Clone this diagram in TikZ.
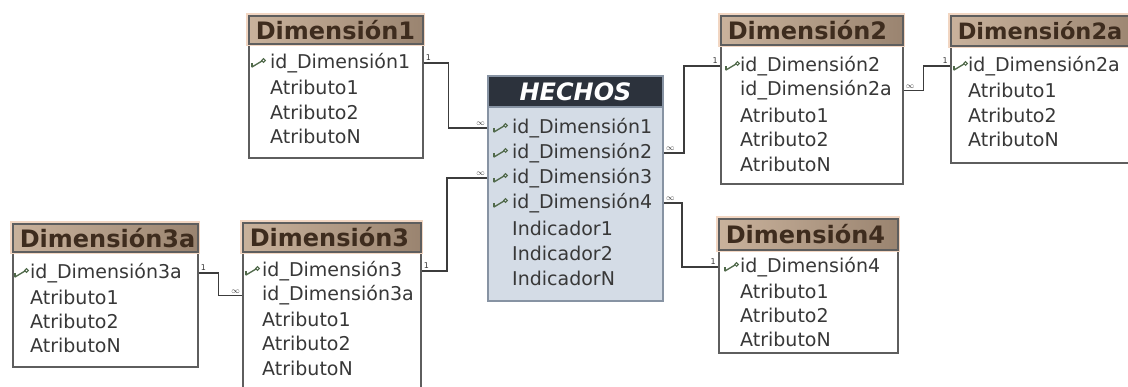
\documentclass[tikz,border=0pt]{standalone}
\usepackage{fontspec}
\setmainfont{DejaVu Sans}
\usetikzlibrary{positioning}

\definecolor{headlt}{HTML}{C9B29C}
\definecolor{headdk}{HTML}{9A8470}
\definecolor{headtxt}{HTML}{3E2C1E}
\definecolor{glow}{HTML}{F2D6C2}
\definecolor{tabline}{HTML}{5E5E5E}
\definecolor{rowc}{HTML}{383838}
\definecolor{facthd}{HTML}{2C323C}
\definecolor{factbg}{HTML}{D4DCE6}
\definecolor{factln}{HTML}{8793A3}
\definecolor{keyc}{HTML}{50694A}
\definecolor{linkc}{HTML}{3C3C3C}

\tikzset{
  rowfont/.style={font=\fontsize{19}{20}\selectfont},
}

\begin{document}
\begin{tikzpicture}[x=1pt, y=-1pt,
  tablebody/.style={draw=tabline, line width=1.6pt, fill=white, anchor=north west, inner sep=0pt},
  tablehead/.style={preaction={draw=glow, line width=5pt}, draw=tabline, line width=1.6pt,
    left color=headlt, right color=headdk, anchor=north west, inner xsep=7pt, inner ysep=0pt,
    align=left, text=headtxt, font=\fontsize{24}{25}\selectfont\bfseries},
  factbody/.style={draw=factln, line width=2pt, fill=factbg, anchor=north west, inner sep=0pt},
  facthead/.style={draw=factln, line width=2pt, fill=facthd, anchor=north west, inner sep=0pt,
    text=white, font=\fontsize{24}{25}\selectfont\bfseries\itshape},
  rowtxt/.style={rowfont, anchor=west, inner sep=0pt, text=rowc},
  link/.style={draw=linkc, line width=1.4pt},
  mult/.style={font=\fontsize{8}{8}\selectfont, text=rowc, inner sep=1.5pt},
  pk/.pic={
    \draw[keyc, line width=1.3pt, line cap=round] (-7,4) -- (3,-2);
    \draw[keyc, line width=1.1pt] (-7,4) -- (-7,0);
    \draw[keyc, line width=1pt] (4.5,-2.5) circle (1.8pt);
  }
]
\useasboundingbox (0,0) rectangle (1128,387);
\clip (0,0) rectangle (1128,387);

% fact table
\node[factbody, minimum width=175pt, minimum height=225pt] (h) at (487,75) {};
\node[facthead, minimum width=175pt, minimum height=31pt] (hh) at (487,75) {HECHOS};
\foreach \t [count=\i] in {id\_Dimensión1, id\_Dimensión2, id\_Dimensión3, id\_Dimensión4,
    Indicador1, Indicador2, IndicadorN}
  \node[rowtxt] (hr\i) at (512, {128+25*(\i-1)}) {\t};
\foreach \i in {1,...,4}
  \pic at (hr\i -| 501,0) {pk};

% Dimensión1
\node[tablebody, minimum width=174pt, minimum height=142pt] (d1) at (248,15) {};
\node[tablehead, text width=160pt, minimum height=28pt] (d1h) at (248,15) {Dimensión1};
\foreach \t [count=\i] in {id\_Dimensión1, Atributo1, Atributo2, AtributoN}
  \node[rowtxt] (d1r\i) at (270, {63+24.5*(\i-1)}) {\t};
\pic at (259,63) {pk};

% Dimensión2
\node[tablebody, minimum width=182pt, minimum height=168pt] (d2) at (720,15) {};
\node[tablehead, text width=168pt, minimum height=29pt] (d2h) at (720,15) {Dimensión2};
\foreach \t [count=\i] in {id\_Dimensión2, id\_Dimensión2a, Atributo1, Atributo2, AtributoN}
  \node[rowtxt] (d2r\i) at (740, {66+24.5*(\i-1)}) {\t};
\pic at (733,66) {pk};

% Dimensión2a
\node[tablebody, minimum width=190pt, minimum height=147pt] (d2a) at (950,15) {};
\node[tablehead, text width=176pt, minimum height=30pt,
  font=\fontsize{22.5}{24}\selectfont\bfseries] (d2ah) at (950,15) {Dimensión2a};
\foreach \t [count=\i] in {id\_Dimensión2a, Atributo1, Atributo2, AtributoN}
  \node[rowtxt] (d2ar\i) at (968, {66+24.5*(\i-1)}) {\t};
\pic at (961,66) {pk};

% Dimensión3a
\node[tablebody, minimum width=185pt, minimum height=143pt] (d3a) at (12,223) {};
\node[tablehead, text width=171pt, minimum height=28pt] (d3ah) at (12,223) {Dimensión3a};
\foreach \t [count=\i] in {id\_Dimensión3a, Atributo1, Atributo2, AtributoN}
  \node[rowtxt] (d3ar\i) at (30, {273+24*(\i-1)}) {\t};
\pic at (22,273) {pk};

% Dimensión3
\node[tablebody, minimum width=178pt, minimum height=178pt] (d3) at (242,222) {};
\node[tablehead, text width=164pt, minimum height=29pt] (d3h) at (242,222) {Dimensión3};
\foreach \t [count=\i] in {id\_Dimensión3, id\_Dimensión3a, Atributo1, Atributo2, AtributoN}
  \node[rowtxt] (d3r\i) at (262, {271+24.3*(\i-1)}) {\t};
\pic at (253,271) {pk};

% Dimensión4
\node[tablebody, minimum width=179pt, minimum height=134pt] (d4) at (718,218) {};
\node[tablehead, text width=165pt, minimum height=31pt] (d4h) at (718,218) {Dimensión4};
\foreach \t [count=\i] in {id\_Dimensión4, Atributo1, Atributo2, AtributoN}
  \node[rowtxt] (d4r\i) at (740, {267+24*(\i-1)}) {\t};
\pic at (732,267) {pk};

% relations
\draw[link] (d1r1 -| d1.east) node[mult, above right] {1} -- ++(25,0)
  |- (hr1 -| h.west) node[mult, above left] {$\infty$};
\draw[link] (hr2 -| h.east) node[mult, above right] {$\infty$} -- ++(20,0)
  |- (d2r1 -| d2.west) node[mult, above left] {1};
\draw[link] (hr3 -| h.west) node[mult, above left] {$\infty$} -- ++(-40,0)
  |- (d3r1 -| d3.east) node[mult, above right] {1};
\draw[link] (hr4 -| h.east) node[mult, above right] {$\infty$} -- ++(18,0)
  |- (d4r1 -| d4.west) node[mult, above left] {1};
\draw[link] (d2r2 -| d2.east) node[mult, above right] {$\infty$} -- ++(20,0)
  |- (d2ar1 -| d2a.west) node[mult, above left] {1};
\draw[link] (d3ar1 -| d3a.east) node[mult, above right] {1} -- ++(20,0)
  |- (d3r2 -| d3.west) node[mult, above left] {$\infty$};
\end{tikzpicture}
\end{document}
